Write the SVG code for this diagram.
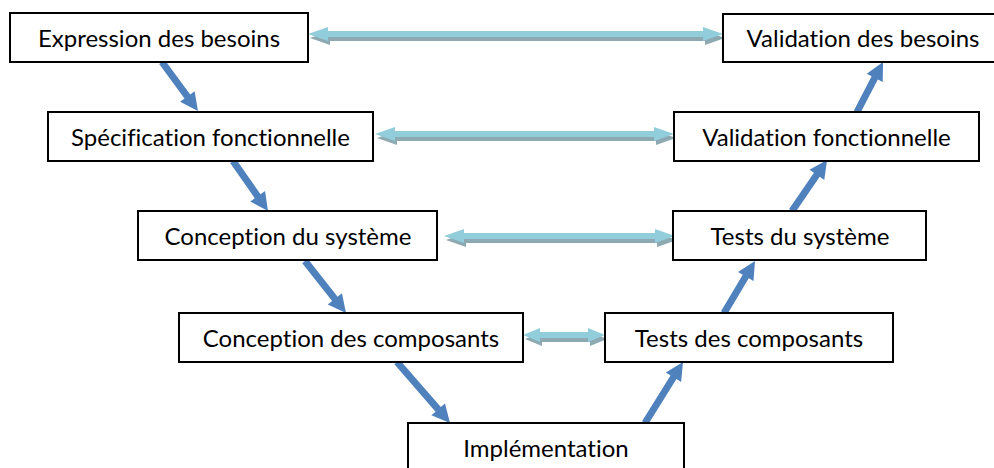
<svg xmlns="http://www.w3.org/2000/svg" xmlns:xlink="http://www.w3.org/1999/xlink" width="994" height="468" viewBox="0 0 994 468">
<style>
.box{fill:#fff;stroke:#000;stroke-width:2}
.lbl{font-family:Lato,"Liberation Sans",sans-serif;font-size:24px;fill:#000;text-anchor:middle;font-variant-ligatures:none;font-feature-settings:"liga" 0,"dlig" 0}
.flow{fill:#4F81BD}
.shadow{fill:#8DA9B1}
.link{fill:#92CDDC}
</style>
<defs>
<path id="d1" d="M308,34 L328,27 V31 H703 V27 L723,34 L703,41 V37 H328 V41 Z"/>
<path id="d2" d="M375,134 L395,127 V131 H654 V127 L674,134 L654,141 V137 H395 V141 Z"/>
<path id="d3" d="M444,236 L464,229 V233 H655 V229 L675,236 L655,243 V239 H464 V243 Z"/>
<path id="d4" d="M523,335 L540,328 V332 H588 V328 L605,335 L588,342 V338 H540 V342 Z"/>
</defs>
<rect width="994" height="468" fill="#fff"/>
<g id="connectors">
<g class="shadow" transform="translate(2,4)">
<use xlink:href="#d1"/><use xlink:href="#d2"/><use xlink:href="#d3"/><use xlink:href="#d4"/>
</g>
<g class="link">
<use xlink:href="#d1"/><use xlink:href="#d2"/><use xlink:href="#d3"/><use xlink:href="#d4"/>
</g>
<g class="flow">
<path transform="translate(162,62) rotate(53.7)" d="M0,-3.5 H42.8 V-9 L60.8,0 L42.8,9 V3.5 H0 Z"/>
<path transform="translate(233,161) rotate(55)" d="M0,-3.5 H43 V-9 L61,0 L43,9 V3.5 H0 Z"/>
<path transform="translate(305,261) rotate(51.7)" d="M0,-3.5 H48.2 V-9 L66.2,0 L48.2,9 V3.5 H0 Z"/>
<path transform="translate(397,362) rotate(49)" d="M0,-3.5 H62.8 V-9 L80.8,0 L62.8,9 V3.5 H0 Z"/>
<path transform="translate(645,423) rotate(-58.1)" d="M0,-3.5 H53.9 V-9 L71.9,0 L53.9,9 V3.5 H0 Z"/>
<path transform="translate(724,313) rotate(-59.2)" d="M0,-3.5 H42.5 V-9 L60.5,0 L42.5,9 V3.5 H0 Z"/>
<path transform="translate(792,211) rotate(-55.5)" d="M0,-3.5 H43.9 V-9 L61.9,0 L43.9,9 V3.5 H0 Z"/>
<path transform="translate(857,112) rotate(-62.5)" d="M0,-3.5 H38.4 V-9 L56.4,0 L38.4,9 V3.5 H0 Z"/>
</g>
</g>
<g id="expression"><rect class="box" x="10" y="13" width="298" height="49"/><text class="lbl" x="159" y="47">Expression des besoins</text></g>
<g id="specification"><rect class="box" x="48" y="112" width="325" height="49"/><text class="lbl" x="210.5" y="146">Spécification fonctionnelle</text></g>
<g id="conception-systeme"><rect class="box" x="138" y="211" width="299" height="49"/><text class="lbl" x="288" y="245">Conception du système</text></g>
<g id="conception-composants"><rect class="box" x="179" y="313" width="344" height="49"/><text class="lbl" x="351" y="347">Conception des composants</text></g>
<g id="implementation"><rect class="box" x="408" y="423" width="276" height="60"/><text class="lbl" x="546" y="457">Implémentation</text></g>
<g id="tests-composants"><rect class="box" x="605" y="313" width="288" height="49"/><text class="lbl" x="749" y="347">Tests des composants</text></g>
<g id="tests-systeme"><rect class="box" x="673" y="211" width="253" height="49"/><text class="lbl" x="800" y="245">Tests du système</text></g>
<g id="validation-fonctionnelle"><rect class="box" x="674" y="112" width="305" height="49"/><text class="lbl" x="826.5" y="146">Validation fonctionnelle</text></g>
<g id="validation-besoins"><rect class="box" x="723" y="14" width="290" height="48"/><text class="lbl" x="863" y="47">Validation des besoins</text></g>
</svg>
